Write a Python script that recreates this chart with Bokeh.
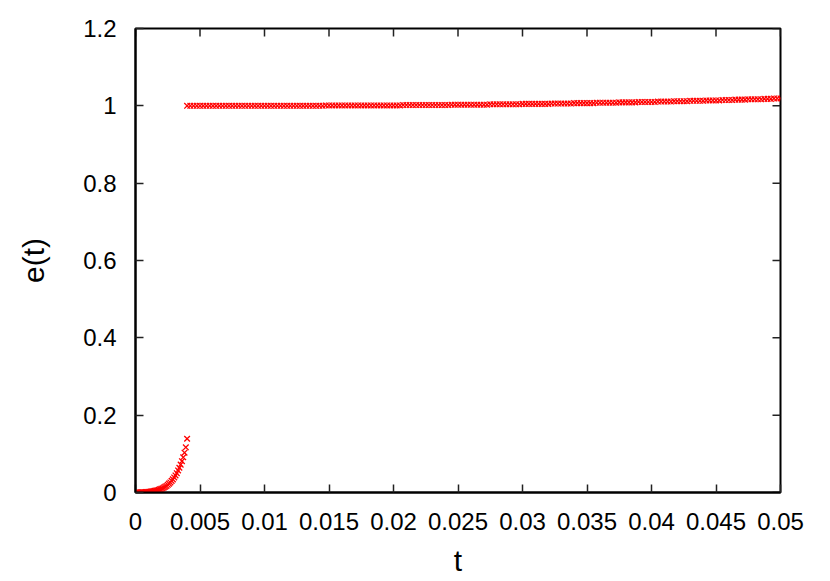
from math import pi
from bokeh.plotting import figure
from bokeh.models import Range1d, FixedTicker, ColumnDataSource
from bokeh.embed import file_html
from bokeh.resources import INLINE

# ---- data ----
t_early = [0.0000, 0.0001, 0.0002, 0.0003, 0.0004, 0.0005, 0.0006, 0.0007, 0.0008, 0.0009,
           0.0010, 0.0011, 0.0012, 0.0013, 0.0014, 0.0015, 0.0016, 0.0017, 0.0018, 0.0019,
           0.0020, 0.0021, 0.0022, 0.0023, 0.0024, 0.0025, 0.0026, 0.0027, 0.0028, 0.0029,
           0.0030, 0.0031, 0.0032, 0.0033, 0.0034, 0.0035, 0.0036, 0.0037, 0.0038, 0.0039,
           0.0040]
e_early = [0.0, 0.00005, 0.0001, 0.0002, 0.0003, 0.0004, 0.0006, 0.0008, 0.001, 0.0013,
           0.0016, 0.002, 0.0025, 0.003, 0.0036, 0.0043, 0.005, 0.006, 0.007, 0.008,
           0.0095, 0.011, 0.013, 0.015, 0.017, 0.020, 0.023, 0.026, 0.030, 0.034,
           0.039, 0.044, 0.050, 0.057, 0.064, 0.072, 0.081, 0.091, 0.103, 0.117,
           0.139]

t_late = [
    0.00400, 0.00425, 0.00450, 0.00475,
    0.00500, 0.00525, 0.00550, 0.00575,
    0.00600, 0.00625, 0.00650, 0.00675,
    0.00700, 0.00725, 0.00750, 0.00775,
    0.00800, 0.00825, 0.00850, 0.00875,
    0.00900, 0.00925, 0.00950, 0.00975,
    0.01000, 0.01025, 0.01050, 0.01075,
    0.01100, 0.01125, 0.01150, 0.01175,
    0.01200, 0.01225, 0.01250, 0.01275,
    0.01300, 0.01325, 0.01350, 0.01375,
    0.01400, 0.01425, 0.01450, 0.01475,
    0.01500, 0.01525, 0.01550, 0.01575,
    0.01600, 0.01625, 0.01650, 0.01675,
    0.01700, 0.01725, 0.01750, 0.01775,
    0.01800, 0.01825, 0.01850, 0.01875,
    0.01900, 0.01925, 0.01950, 0.01975,
    0.02000, 0.02025, 0.02050, 0.02075,
    0.02100, 0.02125, 0.02150, 0.02175,
    0.02200, 0.02225, 0.02250, 0.02275,
    0.02300, 0.02325, 0.02350, 0.02375,
    0.02400, 0.02425, 0.02450, 0.02475,
    0.02500, 0.02525, 0.02550, 0.02575,
    0.02600, 0.02625, 0.02650, 0.02675,
    0.02700, 0.02725, 0.02750, 0.02775,
    0.02800, 0.02825, 0.02850, 0.02875,
    0.02900, 0.02925, 0.02950, 0.02975,
    0.03000, 0.03025, 0.03050, 0.03075,
    0.03100, 0.03125, 0.03150, 0.03175,
    0.03200, 0.03225, 0.03250, 0.03275,
    0.03300, 0.03325, 0.03350, 0.03375,
    0.03400, 0.03425, 0.03450, 0.03475,
    0.03500, 0.03525, 0.03550, 0.03575,
    0.03600, 0.03625, 0.03650, 0.03675,
    0.03700, 0.03725, 0.03750, 0.03775,
    0.03800, 0.03825, 0.03850, 0.03875,
    0.03900, 0.03925, 0.03950, 0.03975,
    0.04000, 0.04025, 0.04050, 0.04075,
    0.04100, 0.04125, 0.04150, 0.04175,
    0.04200, 0.04225, 0.04250, 0.04275,
    0.04300, 0.04325, 0.04350, 0.04375,
    0.04400, 0.04425, 0.04450, 0.04475,
    0.04500, 0.04525, 0.04550, 0.04575,
    0.04600, 0.04625, 0.04650, 0.04675,
    0.04700, 0.04725, 0.04750, 0.04775,
    0.04800, 0.04825, 0.04850, 0.04875,
    0.04900, 0.04925, 0.04950, 0.04975,
    0.05000,
]
e_late = [
    1.000, 1.000, 1.000, 1.000,
    1.000, 1.000, 1.000, 1.000,
    1.000, 1.000, 1.000, 1.000,
    1.000, 1.000, 1.000, 1.000,
    1.000, 1.000, 1.000, 1.000,
    1.000, 1.000, 1.000, 1.000,
    1.000, 1.000, 1.000, 1.000,
    1.000, 1.000, 1.000, 1.000,
    1.000, 1.000, 1.000, 1.000,
    1.000, 1.000, 1.000, 1.000,
    1.000, 1.000, 1.000, 1.001,
    1.001, 1.001, 1.001, 1.001,
    1.001, 1.001, 1.001, 1.001,
    1.001, 1.001, 1.001, 1.001,
    1.001, 1.001, 1.001, 1.001,
    1.001, 1.001, 1.001, 1.001,
    1.001, 1.001, 1.001, 1.002,
    1.002, 1.002, 1.002, 1.002,
    1.002, 1.002, 1.002, 1.002,
    1.002, 1.002, 1.002, 1.002,
    1.002, 1.002, 1.003, 1.003,
    1.003, 1.003, 1.003, 1.003,
    1.003, 1.003, 1.003, 1.003,
    1.003, 1.003, 1.004, 1.004,
    1.004, 1.004, 1.004, 1.004,
    1.004, 1.004, 1.004, 1.004,
    1.005, 1.005, 1.005, 1.005,
    1.005, 1.005, 1.005, 1.005,
    1.005, 1.006, 1.006, 1.006,
    1.006, 1.006, 1.006, 1.006,
    1.007, 1.007, 1.007, 1.007,
    1.007, 1.007, 1.007, 1.008,
    1.008, 1.008, 1.008, 1.008,
    1.008, 1.008, 1.009, 1.009,
    1.009, 1.009, 1.009, 1.009,
    1.010, 1.010, 1.010, 1.010,
    1.010, 1.010, 1.011, 1.011,
    1.011, 1.011, 1.011, 1.012,
    1.012, 1.012, 1.012, 1.012,
    1.013, 1.013, 1.013, 1.013,
    1.013, 1.014, 1.014, 1.014,
    1.014, 1.014, 1.015, 1.015,
    1.015, 1.015, 1.016, 1.016,
    1.016, 1.016, 1.017, 1.017,
    1.017, 1.017, 1.017, 1.018,
    1.018, 1.018, 1.019, 1.019,
    1.019,
]

x_ticks = [0, 0.005, 0.01, 0.015, 0.02, 0.025, 0.03, 0.035, 0.04, 0.045, 0.05]
x_tick_labels = ["0", "0.005", "0.01", "0.015", "0.02", "0.025", "0.03", "0.035", "0.04", "0.045", "0.05"]
y_ticks = [0, 0.2, 0.4, 0.6, 0.8, 1.0, 1.2]
y_tick_labels = ["0", "0.2", "0.4", "0.6", "0.8", "1", "1.2"]

FONT = "Liberation Sans"
TICK_COLOR = "#222222"

p = figure(width=822, height=581, output_backend="svg", toolbar_location=None,
           x_range=Range1d(x_ticks[0], x_ticks[-1]), y_range=Range1d(y_ticks[0], y_ticks[-1]),
           min_border_left=135, min_border_right=42, min_border_top=28, min_border_bottom=89)
p.background_fill_color = "white"
p.border_fill_color = "white"
p.outline_line_color = "black"
p.outline_line_width = 2
p.xgrid.visible = False
p.ygrid.visible = False

src = ColumnDataSource(dict(t=t_early + t_late, e=e_early + e_late))
p.scatter("t", "e", source=src, marker="x", size=8, line_color="#ff0000", line_width=1.3)

def style_axis(ax, ticks, labels):
    ax.ticker = FixedTicker(ticks=ticks)
    ax.major_label_overrides = {tk: lb for tk, lb in zip(ticks, labels)}
    ax.major_tick_in = 8
    ax.major_tick_out = 0
    ax.minor_tick_in = 0
    ax.minor_tick_out = 0
    ax.major_tick_line_color = TICK_COLOR
    ax.major_tick_line_width = 1.5
    ax.axis_line_color = "black"
    ax.axis_line_width = 2
    ax.major_label_text_font = FONT
    ax.major_label_text_font_size = "24px"
    ax.major_label_text_color = "black"
    ax.axis_label_text_font = FONT
    ax.axis_label_text_font_style = "normal"
    ax.axis_label_text_color = "black"
    ax.axis_label_text_font_size = "30px"

xa = p.xaxis[0]
style_axis(xa, x_ticks, x_tick_labels)
xa.major_label_standoff = 20
xa.axis_label = "t"
xa.axis_label_standoff = 11

ya = p.yaxis[0]
style_axis(ya, y_ticks, y_tick_labels)
ya.major_label_standoff = 19
ya.axis_label = "e(t)"
ya.axis_label_standoff = 30

# mirrored inward ticks on the top and right borders (gnuplot style)
p.ray(x=x_ticks, y=[y_ticks[-1]] * len(x_ticks), length=8, length_units="screen",
      angle=-pi / 2, line_color=TICK_COLOR, line_width=1.5)
p.ray(x=[x_ticks[-1]] * len(y_ticks), y=y_ticks, length=8, length_units="screen",
      angle=pi, line_color=TICK_COLOR, line_width=1.5)

open("out.html", "w").write(file_html(p, INLINE))
